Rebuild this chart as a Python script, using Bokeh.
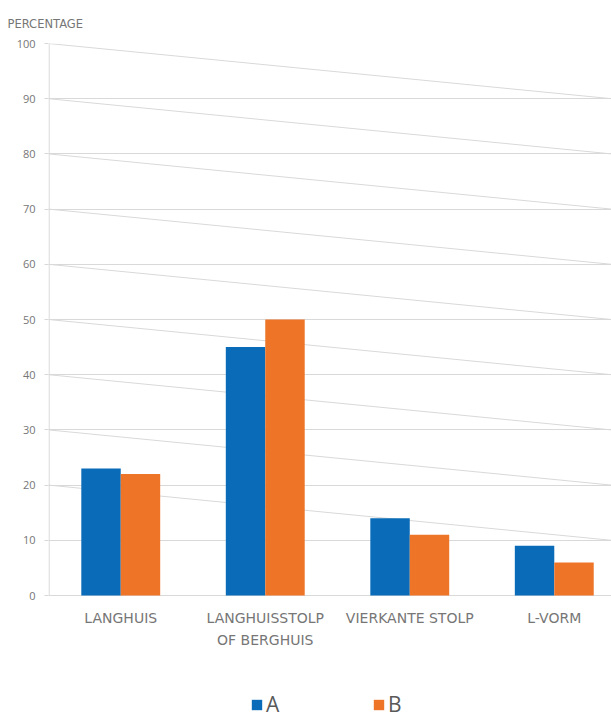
import numpy as np
from bokeh.plotting import figure
from bokeh.models import Range1d, FixedTicker
from bokeh.core.properties import value
from bokeh.embed import file_html
from bokeh.resources import INLINE

# Data
categories = ["LANGHUIS", "LANGHUISSTOLP\nOF BERGHUIS", "VIERKANTE STOLP", "L-VORM"]
series_names = ["A", "B"]
series_a = [23, 45, 14, 9]
series_b = [22, 50, 11, 6]
y_ticks = [0, 10, 20, 30, 40, 50, 60, 70, 80, 90, 100]

BLUE = "#0A6CB9"
ORANGE = "#EE7428"
GRID = "#d9d9d9"
TEXT = "#767676"

# category slots are one unit wide; the plot area is cut off just before the 4th slot ends
x_end = 3.896
bar_w = 0.273
centers = np.arange(len(categories)) + 0.5

# the frame runs down to the bottom edge so that the category names and the
# legend can sit inside it, below the value 0
W, H = 611, 718
top_px = 43
px_per_unit = 5.52
y_bottom = 100 - (H - top_px) / px_per_unit

p = figure(
    width=W, height=H,
    x_range=Range1d(0, x_end), y_range=Range1d(y_bottom, 100),
    output_backend="svg", toolbar_location=None,
    min_border_left=48, min_border_right=0,
    min_border_top=top_px, min_border_bottom=0,
    outline_line_color=None, title="PERCENTAGE",
)
p.background_fill_color = "white"
p.border_fill_color = "white"

# title used as the y axis caption, top-left
p.title.text_font = "DejaVu Sans"
p.title.text_font_size = "11.5px"
p.title.text_font_style = "normal"
p.title.text_color = TEXT
p.title.align = "left"
p.title.offset = -41
p.title.standoff = 25

# grid
p.xgrid.visible = False
p.ygrid.ticker = FixedTicker(ticks=y_ticks)
p.ygrid.grid_line_color = GRID
p.ygrid.grid_line_width = 1

# perspective lines of the side wall
for v in y_ticks[2:]:
    p.segment(x0=0, y0=v, x1=x_end, y1=v - 10, line_color=GRID, line_width=1)

# left wall edge, from 0 to 100
p.segment(x0=0.004, y0=y_ticks[0], x1=0.004, y1=y_ticks[-1], line_color=GRID, line_width=1.2)

# y axis
p.yaxis.ticker = FixedTicker(ticks=y_ticks)
p.yaxis.axis_line_color = None
p.yaxis.major_tick_line_color = GRID
p.yaxis.major_tick_out = 4
p.yaxis.major_tick_in = 0
p.yaxis.minor_tick_line_color = None
p.yaxis.major_label_standoff = 9
p.yaxis.major_label_text_font = "Open Sans"
p.yaxis.major_label_text_font_size = "11px"
p.yaxis.major_label_text_color = TEXT

# category names under the bars
p.xaxis.visible = False
p.text(x=centers, y=[-2.7] * len(categories), text=categories,
       text_align="center", text_baseline="top",
       text_font=value("DejaVu Sans"), text_font_size="14px",
       text_color=TEXT, text_line_height=1.35)

# bars
p.vbar(x=centers - bar_w / 2, top=series_a, width=bar_w, fill_color=BLUE,
       line_color=None, legend_label=series_names[0])
p.vbar(x=centers + bar_w / 2, top=series_b, width=bar_w, fill_color=ORANGE,
       line_color=None, legend_label=series_names[1])

# legend at the bottom
lg = p.legend[0]
lg.location = (202, 0)
lg.orientation = "horizontal"
lg.border_line_color = None
lg.background_fill_alpha = 0
lg.glyph_width = 13
lg.glyph_height = 13
lg.label_text_font = "Open Sans"
lg.label_text_font_size = "21px"
lg.label_text_color = "#595959"
lg.spacing = 86
lg.padding = 0
lg.margin = 0
lg.label_standoff = 3

open("out.html", "w").write(file_html(p, INLINE))
